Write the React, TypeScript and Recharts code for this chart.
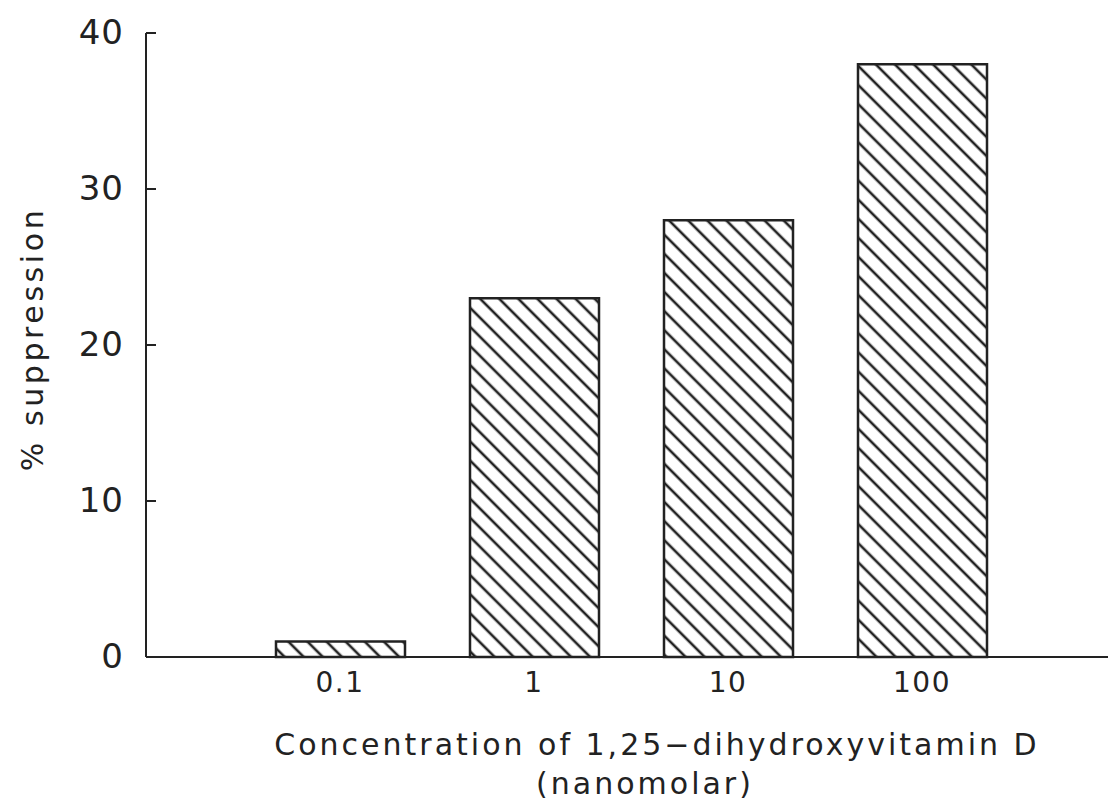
import { BarChart, Bar, XAxis, YAxis } from "recharts";

const concentrations = ["0.1", "1", "10", "100"];
const suppression = [1, 23, 28, 38];
const yTicks = [0, 10, 20, 30, 40];

const data = concentrations.map((c, i) => ({ conc: c, value: suppression[i] }));

const FONT = "'DejaVu Sans', sans-serif";
const INK = "#222";

const YTick = (props: any) => {
  const { x, y, payload } = props;
  // axis line sits tickMargin (22) to the right of the label anchor
  const axisX = x + 22;
  return (
    <g>
      <line x1={axisX} x2={axisX + 10} y1={y} y2={y} stroke={INK} strokeWidth={2} />
      <text x={x} y={y} dy={11} textAnchor="end" fontSize={34} fontFamily={FONT} fill={INK} letterSpacing={1}>
        {payload.value}
      </text>
    </g>
  );
};

const XLabel = (props: any) => {
  const { viewBox } = props;
  const cx = viewBox.x + viewBox.width / 2;
  return (
    <g fontFamily={FONT} fill={INK} fontSize={30}>
      <text x={cx + 30} y={viewBox.y + 98} textAnchor="middle" letterSpacing={3}>
        Concentration of 1,25−dihydroxyvitamin D
      </text>
      <text x={cx + 18} y={viewBox.y + 137} textAnchor="middle" letterSpacing={3}>
        (nanomolar)
      </text>
    </g>
  );
};

const YLabel = (props: any) => {
  const { viewBox } = props;
  const cy = viewBox.y + viewBox.height / 2 - 6;
  return (
    <text
      x={33}
      y={cy}
      transform={`rotate(-90 33 ${cy})`}
      dy={10}
      textAnchor="middle"
      fontSize={30}
      fontFamily={FONT}
      fill={INK}
      letterSpacing={3.6}
    >
      % suppression
    </text>
  );
};

export default function App() {
  return (
    <div style={{ position: "absolute", left: 0, top: 0, background: "#fff" }}>
      <BarChart
        width={1108}
        height={806}
        data={data}
        margin={{ top: 33, right: 0, left: 0, bottom: 0 }}
      >
        <defs>
          <pattern
            id="hatch"
            patternUnits="userSpaceOnUse"
            width={13.5}
            height={13.5}
            patternTransform="rotate(-45)"
          >
            <rect width={13.5} height={13.5} fill="#fff" />
            <line x1={6.75} y1={0} x2={6.75} y2={13.5} stroke={INK} strokeWidth={2.6} />
          </pattern>
        </defs>
        <XAxis
          dataKey="conc"
          height={149}
          padding={{ left: 97, right: 89 }}
          tickLine={false}
          axisLine={{ stroke: INK, strokeWidth: 2 }}
          tick={{ fontSize: 28, fontFamily: FONT, fill: INK, letterSpacing: 1.5 }}
          tickMargin={9}
          label={{ content: XLabel }}
        />
        <YAxis
          width={146}
          domain={[0, 40]}
          ticks={yTicks}
          tickLine={false}
          tickSize={0}
          tickMargin={22}
          axisLine={{ stroke: INK, strokeWidth: 2 }}
          tick={YTick}
          label={{ content: YLabel }}
        />
        <Bar
          dataKey="value"
          barSize={129}
          fill="url(#hatch)"
          stroke={INK}
          strokeWidth={2.5}
          isAnimationActive={false}
        />
      </BarChart>
    </div>
  );
}
